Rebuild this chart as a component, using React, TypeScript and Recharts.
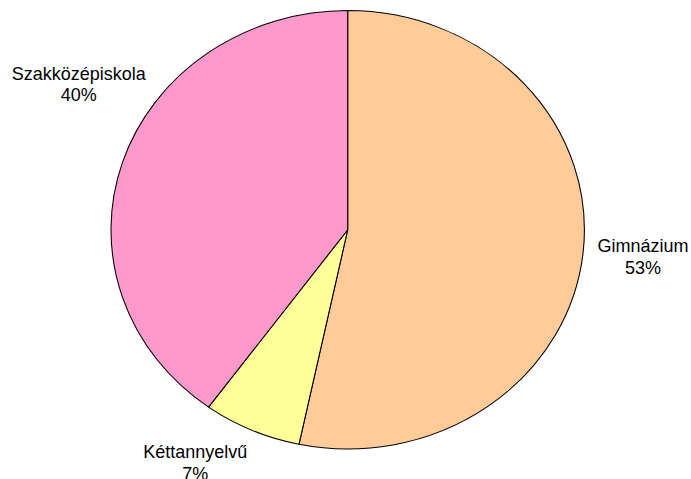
import React from 'react'
import { PieChart, Pie, Cell } from 'recharts'

const categories = ['Gimnázium', 'Kéttannyelvű', 'Szakközépiskola']
const shares = [53.3, 6.7, 40.0]
const colors = ['#FFCC99', '#FFFF99', '#FF99CC']

// the pie is an ellipse in the original, so the circle gets stretched sideways
const W = 691
const H = 479
const SX = 236.7 / 219.2
const CX = 347.7
const CY = 229.8
const R = 219.2

// where each label centre sits relative to its slice's outer edge (screen px)
const labelNudge: [number, number][] = [
  [59.9, 10.8],
  [-56.5, 39.1],
  [-43.8, -71.1],
]

const data = categories.map((name, i) => ({ name, value: shares[i] }))

const RAD = Math.PI / 180

function renderLabel(props: any) {
  const { cx, cy, midAngle, outerRadius, percent, index, name } = props
  const ex = SX * (cx + outerRadius * Math.cos(-midAngle * RAD))
  const ey = cy + outerRadius * Math.sin(-midAngle * RAD)
  const [nx, ny] = labelNudge[index] ?? [0, 0]
  const x = ex + nx
  const y = ey + ny - 11
  return (
    <text
      x={x}
      y={y}
      transform={`scale(${1 / SX},1)`}
      textAnchor="middle"
      fill="#000"
      fontSize={18}
      fontFamily="'Liberation Sans', Arial, sans-serif"
    >
      <tspan x={x} y={y}>{name}</tspan>
      <tspan x={x} y={y + 21.5}>{`${Math.round(percent * 100)}%`}</tspan>
    </text>
  )
}

export default function App() {
  return (
    <div style={{ position: 'absolute', left: 0, top: 0, width: W, height: H, overflow: 'hidden', background: '#fff' }}>
      <div style={{ transform: `scaleX(${SX})`, transformOrigin: '0 0', width: W / SX, height: H }}>
        <PieChart width={W / SX} height={H} margin={{ top: 0, right: 0, bottom: 0, left: 0 }}>
          <Pie
            data={data}
            dataKey="value"
            nameKey="name"
            cx={CX / SX}
            cy={CY}
            outerRadius={R}
            startAngle={90}
            endAngle={-270}
            stroke="#000"
            strokeWidth={1}
            labelLine={false}
            label={renderLabel}
            isAnimationActive={false}
          >
            {data.map((d, i) => (
              <Cell key={d.name} fill={colors[i]} />
            ))}
          </Pie>
        </PieChart>
      </div>
    </div>
  )
}
